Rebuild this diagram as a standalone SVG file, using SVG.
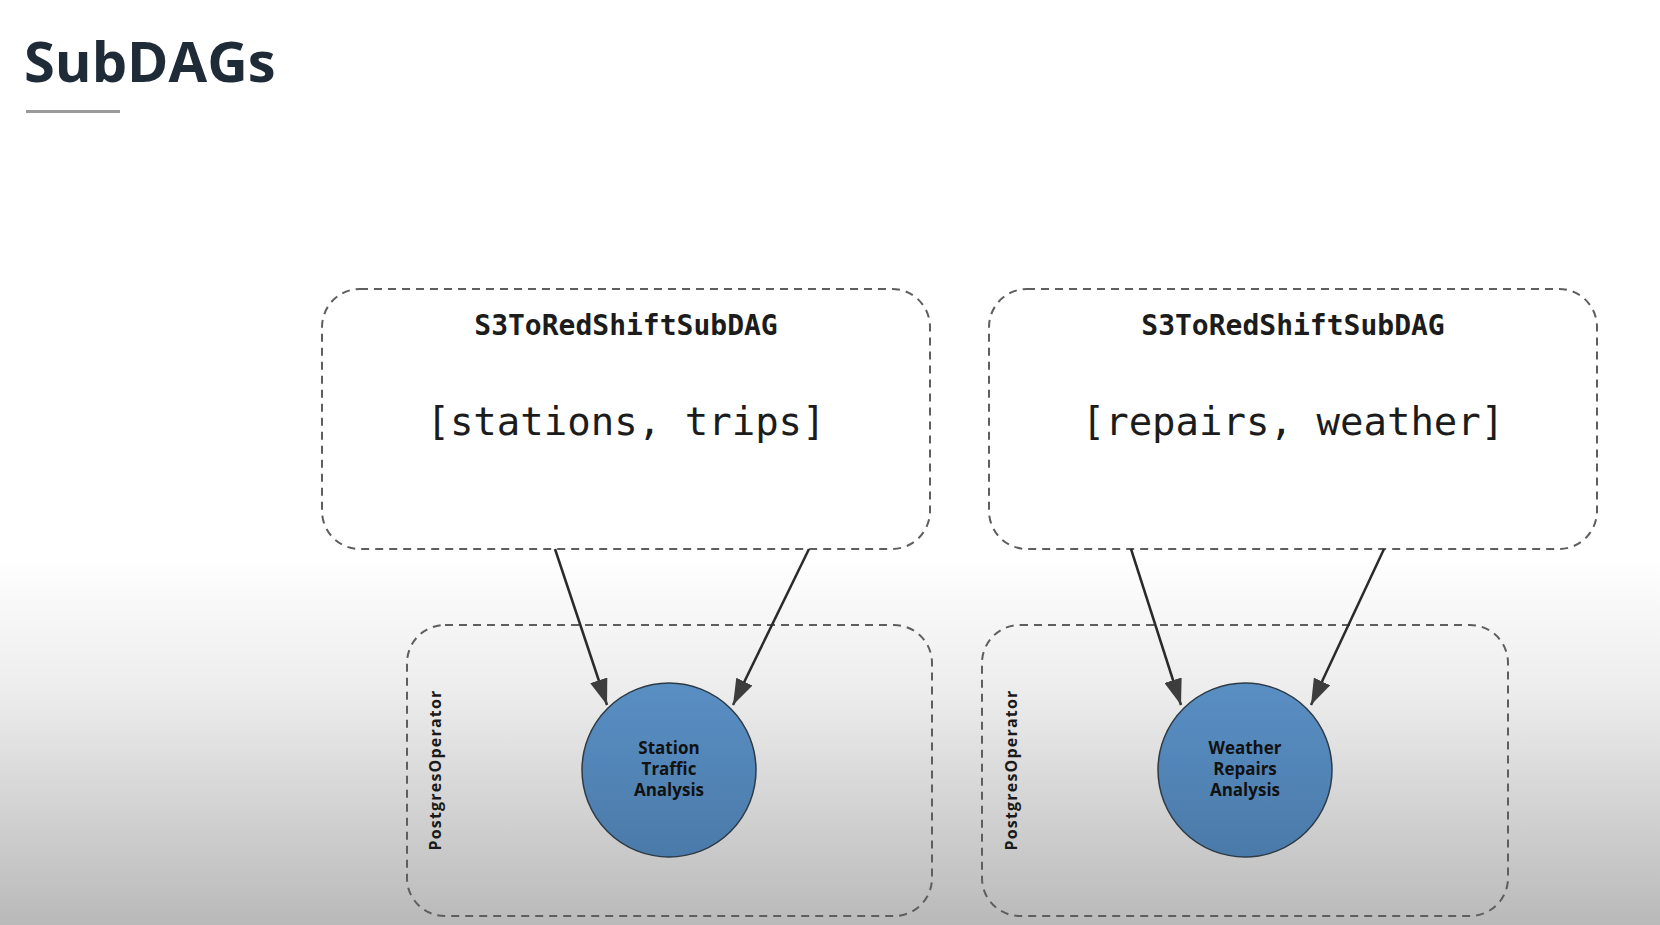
<svg xmlns="http://www.w3.org/2000/svg" width="1660" height="925" viewBox="0 0 1660 925">
<defs>
<linearGradient id="bg" x1="0" y1="0" x2="0" y2="925" gradientUnits="userSpaceOnUse">
<stop offset="0" stop-color="#ffffff"/>
<stop offset="0.6" stop-color="#ffffff"/>
<stop offset="0.75" stop-color="#ececec"/>
<stop offset="1" stop-color="#b9b9b9"/>
</linearGradient>
<linearGradient id="ball" x1="0" y1="0" x2="0" y2="1">
<stop offset="0" stop-color="#5a8fc4"/>
<stop offset="1" stop-color="#4a7aa9"/>
</linearGradient>
<marker id="arr" viewBox="0 0 26 18" refX="26" refY="9" markerWidth="26" markerHeight="18" markerUnits="userSpaceOnUse" orient="auto">
<path d="M0,0 L26,9 L0,18 Z" fill="#3d3d3d"/>
</marker>
<style>
.box{fill:none;stroke:#5e5e5e;stroke-width:2;stroke-dasharray:8 6}
.topbox{fill:#ffffff;stroke:#5e5e5e;stroke-width:2;stroke-dasharray:8 6}
.title{font-family:"DejaVu Sans Mono","Liberation Mono",monospace;font-size:28px;font-weight:bold;fill:#1c1c1c;text-anchor:middle}
.list{font-family:"DejaVu Sans Mono","Liberation Mono",monospace;font-size:39px;fill:#1c1c1c;text-anchor:middle}
.op{font-family:"Open Sans","Noto Sans",sans-serif;font-size:16px;font-weight:bold;fill:#1a1a1a;text-anchor:middle;letter-spacing:1.2px}
.node{fill:url(#ball);stroke:#2e3a44;stroke-width:1.5}
.lbl{font-family:"Open Sans","Noto Sans",sans-serif;font-size:17px;font-weight:bold;fill:#111;text-anchor:middle}
.edge{stroke:#2a2a2a;stroke-width:2.5;fill:none;marker-end:url(#arr)}
</style>
</defs>
<rect x="0" y="0" width="1660" height="925" fill="url(#bg)"/>
<g id="header">
<text x="24" y="82" font-family="'Open Sans','Noto Sans',sans-serif" font-size="56" font-weight="bold" fill="#1f2b36">SubDAGs</text>
<rect x="26" y="110" width="94" height="3" fill="#9a9a9a"/>
</g>
<g id="subdag1">
<rect class="topbox" x="322" y="289" width="608" height="260" rx="38"/>
<text class="title" x="626" y="335">S3ToRedShiftSubDAG</text>
<text class="list" x="626" y="435">[stations, trips]</text>
</g>
<g id="subdag2">
<rect class="topbox" x="989" y="289" width="608" height="260" rx="38"/>
<text class="title" x="1293" y="335">S3ToRedShiftSubDAG</text>
<text class="list" x="1293" y="435">[repairs, weather]</text>
</g>
<g id="op1">
<rect class="box" x="407" y="625" width="525" height="291" rx="38"/>
<text class="op" transform="translate(441,770) rotate(-90)">PostgresOperator</text>
</g>
<g id="op2">
<rect class="box" x="982" y="625" width="526" height="291" rx="38"/>
<text class="op" transform="translate(1017,770) rotate(-90)">PostgresOperator</text>
</g>
<g id="node1">
<circle class="node" cx="669" cy="770" r="87"/>
<text class="lbl" x="669" y="754">Station</text>
<text class="lbl" x="669" y="775">Traffic</text>
<text class="lbl" x="669" y="796">Analysis</text>
</g>
<g id="node2">
<circle class="node" cx="1245" cy="770" r="87"/>
<text class="lbl" x="1245" y="754">Weather</text>
<text class="lbl" x="1245" y="775">Repairs</text>
<text class="lbl" x="1245" y="796">Analysis</text>
</g>
<g id="connectors">
<line class="edge" x1="555" y1="549" x2="607" y2="705"/>
<line class="edge" x1="809" y1="549" x2="733" y2="705"/>
<line class="edge" x1="1131" y1="549" x2="1181" y2="705"/>
<line class="edge" x1="1384" y1="549" x2="1311" y2="705"/>
</g>
</svg>
